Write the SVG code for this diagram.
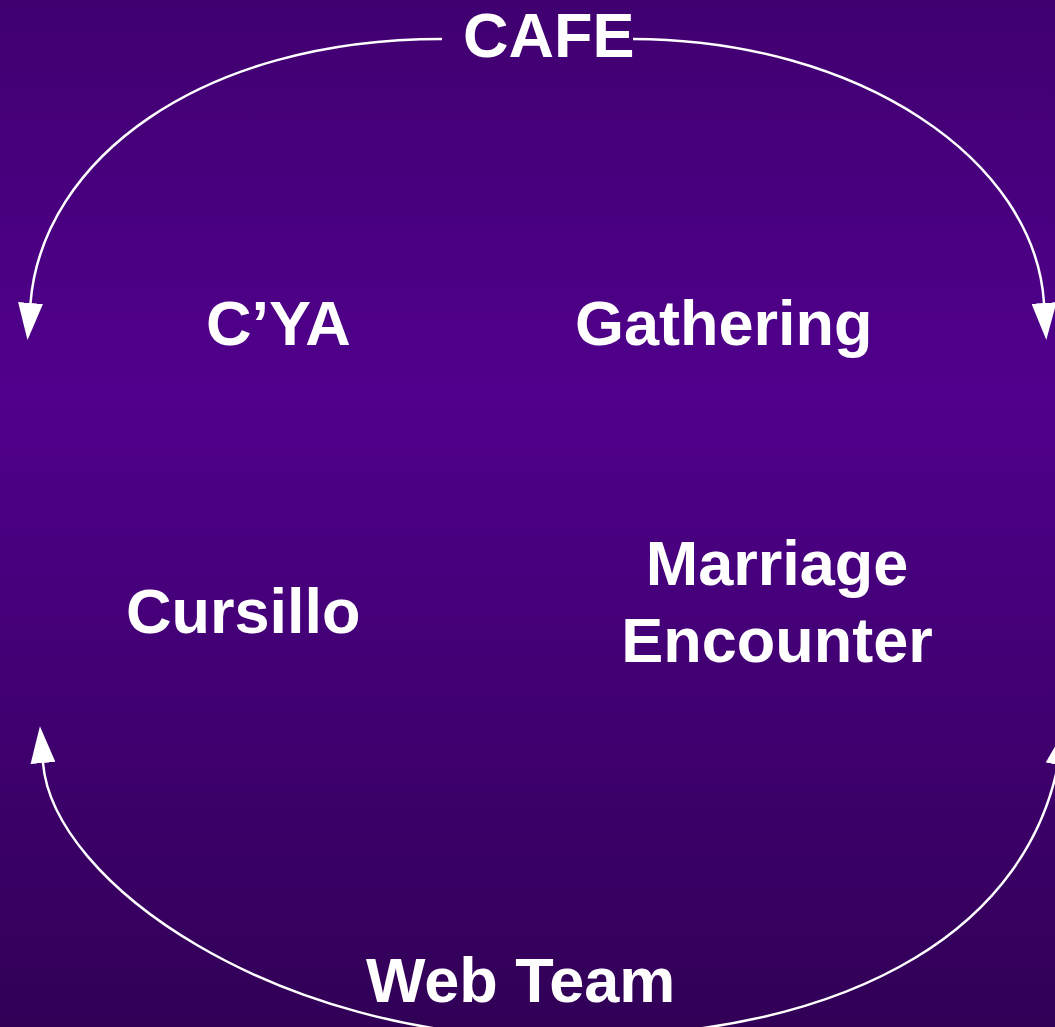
<svg xmlns="http://www.w3.org/2000/svg" width="1055" height="1027" viewBox="0 0 1055 1027">
  <defs>
    <linearGradient id="bg" x1="0" y1="0" x2="0" y2="1">
      <stop offset="0" stop-color="#400070"/>
      <stop offset="0.38" stop-color="#50008C"/>
      <stop offset="1" stop-color="#310056"/>
    </linearGradient>
    <marker id="arrow" viewBox="0 0 37 25" refX="0" refY="12.5" markerWidth="37" markerHeight="25" markerUnits="userSpaceOnUse" orient="auto-start-reverse">
      <path d="M0,0 L37,12.5 L0,25 Z" fill="#FFFFFF"/>
    </marker>
    <style>
      .lbl { font-family: "Liberation Sans", Arial, sans-serif; font-weight: bold; font-size: 63px; fill: #FFFFFF; }
      .conn { fill: none; stroke: #FFFFFF; stroke-width: 2.5; }
    </style>
  </defs>
  <rect x="0" y="0" width="1055" height="1027" fill="url(#bg)"/>
  <g id="connectors">
    <path class="conn" d="M442,39 C200,39 42,160 30.5,303" marker-end="url(#arrow)"/>
    <path class="conn" d="M633,39 C860,40 1035,160 1044,303" marker-end="url(#arrow)"/>
    <path class="conn" d="M43,763 C53,883 275,1038 555,1038 C875,1038 1028,915 1058,765" marker-start="url(#arrow)" marker-end="url(#arrow)"/>
  </g>
  <g id="node-cafe"><text class="lbl" x="463" y="57">CAFE</text></g>
  <g id="node-cya"><text class="lbl" x="206" y="345">C’YA</text></g>
  <g id="node-gathering"><text class="lbl" x="575" y="345">Gathering</text></g>
  <g id="node-cursillo"><text class="lbl" x="126" y="633">Cursillo</text></g>
  <g id="node-marriage-encounter">
    <text class="lbl" x="777" y="585" text-anchor="middle">Marriage</text>
    <text class="lbl" x="777" y="662" text-anchor="middle">Encounter</text>
  </g>
  <g id="node-webteam"><text class="lbl" x="366" y="1002">Web Team</text></g>
</svg>
